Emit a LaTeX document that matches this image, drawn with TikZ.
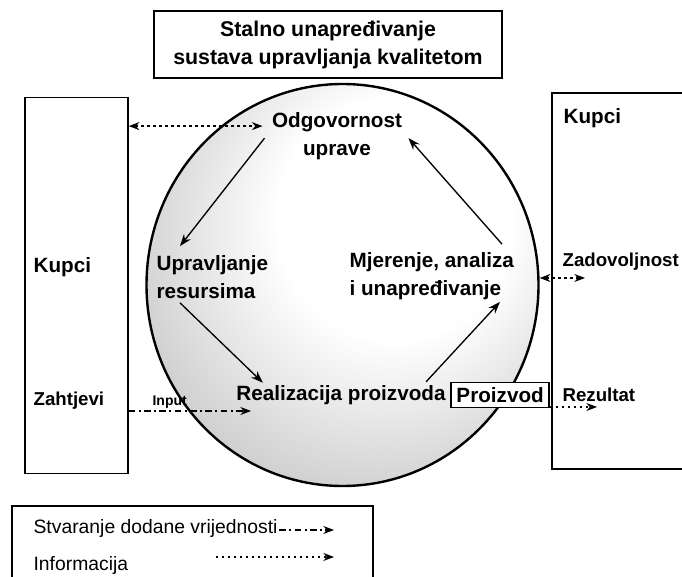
\documentclass[tikz,border=0pt]{standalone}
\usepackage{fontspec}
\setmainfont{Liberation Sans}
\usetikzlibrary{shapes.geometric, arrows.meta, positioning, calc}
\pgfdeclareradialshading{ringshade}{\pgfpoint{9bp}{11bp}}{color(0bp)=(white);
  color(15bp)=(white); color(32bp)=(gray!38); color(60bp)=(gray!38)}
\tikzset{
  title/.style={rectangle, draw=black, line width=1.1pt, minimum width=261pt,
    minimum height=50pt, align=center, font=\fontsize{16}{21}\selectfont\bfseries},
  side/.style={rectangle, draw=black, line width=1.1pt, minimum height=282pt},
  ring/.style={ellipse, draw=black, line width=1.8pt, minimum width=294pt,
    minimum height=301.5pt, shade, shading=ringshade},
  stage/.style={align=left, inner sep=1pt, font=\fontsize{15.5}{20.5}\selectfont\bfseries},
  product/.style={rectangle, draw=black, fill=white, line width=1pt, minimum width=73.5pt,
    minimum height=18.75pt, inner sep=1pt, font=\fontsize{15.5}{18}\selectfont\bfseries},
  tag/.style={inner sep=1pt, font=\fontsize{14}{17}\selectfont\bfseries},
  note/.style={inner sep=1pt, font=\fontsize{14.5}{17}\selectfont},
  legendbox/.style={rectangle, draw=black, line width=0.8pt, minimum width=270.75pt,
    minimum height=70.5pt},
  arrow/.style={-{Stealth[length=9pt,width=6.5pt]}, line width=1pt},
  info/.style={-{Stealth[length=8pt,width=6pt]}, line width=1pt, dash pattern=on 2pt off 2.5pt},
  infoboth/.style={info, {Stealth[length=8pt,width=6pt]}-{Stealth[length=8pt,width=6pt]}},
  valueflow/.style={-{Stealth[length=8pt,width=6pt]}, line width=1pt,
    dash pattern=on 5pt off 2.5pt on 1.5pt off 2.5pt}
}
\begin{document}
\begin{tikzpicture}[x=0.75pt, y=-0.75pt]
\useasboundingbox (0,0) rectangle (682,577);
\node (krug)   [ring]                         at (342.5,285) {};
\node (naslov) [title]                        at (328,44.5)  {Stalno unapređivanje\\sustava upravljanja kvalitetom};
\node (kupciL) [side, minimum width=77.25pt]  at (76.5,285.5) {};
\node (kupciR) [side, minimum width=126pt]    at (636,281)   {};
\node (odg)    [stage, align=center]          at (337,136)   {Odgovornost\\uprave};
\node (upr)    [stage, anchor=west]           at (155,277)   {Upravljanje\\resursima};
\node (mje)    [stage, anchor=west]           at (348,276)   {Mjerenje, analiza\\i unapređivanje};
\node (real)   [stage]                        at (341,395)   {Realizacija proizvoda};
\node (proiz)  [product, right=2.5pt of real]               {Proizvod};
\node (kupL)   [stage, anchor=west]           at (32,267)    {Kupci};
\node (zaht)   [tag, anchor=west]             at (32,401)    {Zahtjevi};
\node (inp)    [tag, anchor=west, font=\fontsize{10.5}{12}\selectfont\bfseries] at (151,402) {Input};
\node (kupR)   [stage, anchor=west]           at (562,118)   {Kupci};
\node (zad)    [tag, anchor=west]             at (561,262)   {Zadovoljnost};
\node (rez)    [tag, anchor=west]             at (561,395)   {Rezultat};
\node (leg)    [legendbox]                    at (192.5,553) {};
\node (stvar)  [note, anchor=west]            at (32,528)    {Stvaranje dodane vrijednosti};
\node (infor)  [note, anchor=west]            at (32,565)    {Informacija};

\coordinate (zadEnd)    at (585,278);
\coordinate (rezEnd)    at (597,407);
\coordinate (inpEnd)    at (251,411);
\coordinate (stvarEnd)  at (334,530);
\coordinate (inforEnd)  at (334,557);

\draw [infoboth]  ($(kupciL.east |- odg.north)+(0,15)$) -- ($(odg.north west)+(-8,15)$);
\draw [arrow]     ($(odg.north west)+(-6,27)$)  -- ($(upr.north west)+(25,-8)$);
\draw [arrow]     ($(upr.south west)+(25,3)$)   -- ($(real.north west)+(28,-1)$);
\draw [arrow]     ($(real.north east)+(-21,-2)$) -- ($(mje.south west)+(152,1)$);
\draw [arrow]     ($(mje.north west)+(154,-7)$) -- ($(odg.north east)+(5,27)$);
\draw [infoboth]  (krug.east |- zadEnd) -- (zadEnd);
\draw [info]      (proiz.south east |- rezEnd) -- (rezEnd);
\draw [valueflow] (kupciL.east |- inpEnd) -- (inpEnd);
\draw [valueflow] (stvar.east |- stvarEnd) -- (stvarEnd);
\draw [info]      ($(infor.east |- inforEnd)+(86,0)$) -- (inforEnd);
\end{tikzpicture}
\end{document}
